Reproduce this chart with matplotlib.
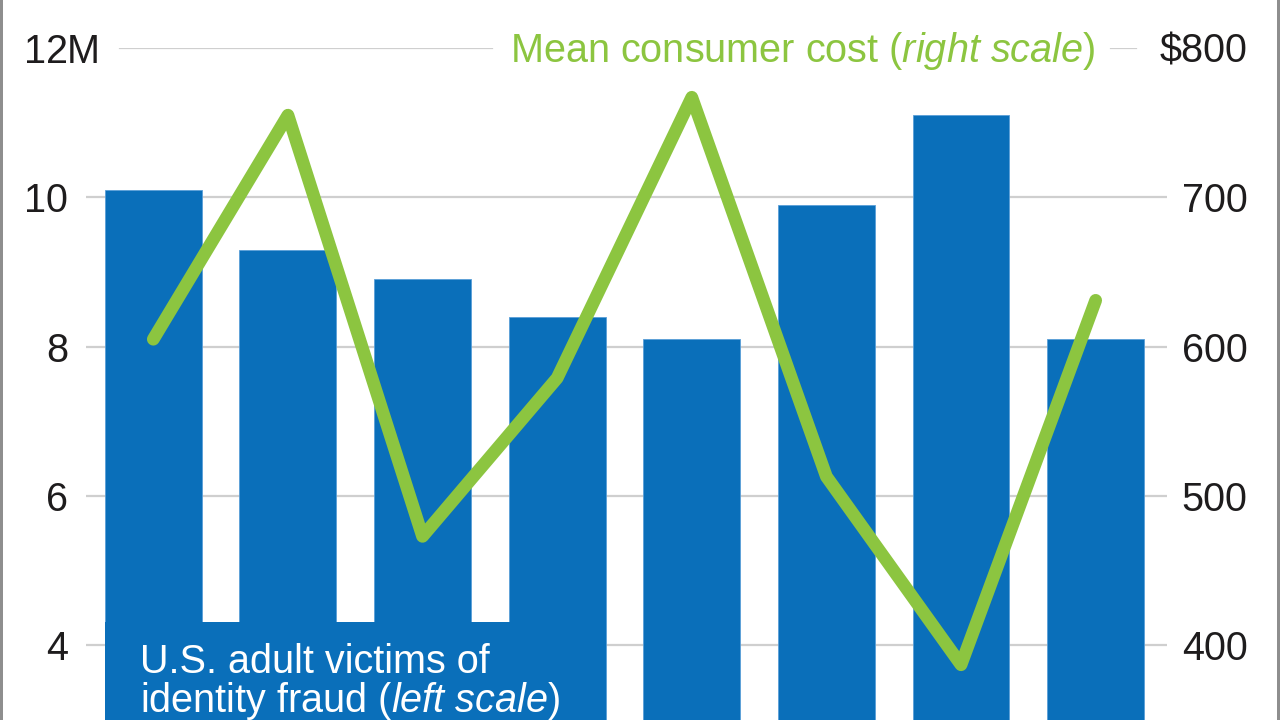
import matplotlib
matplotlib.use("Agg")
import matplotlib.pyplot as plt
from matplotlib.patches import Rectangle

plt.rcParams.update({"font.family": ["Liberation Sans", "DejaVu Sans"],
                     "mathtext.fontset": "custom",
                     "mathtext.rm": "Liberation Sans",
                     "mathtext.it": "Liberation Sans:italic",
                     "font.size": 28.5})

# data (2003-2010, Javelin-style identity fraud survey)
years = [2003, 2004, 2005, 2006, 2007, 2008, 2009, 2010]
victims_m = [10.1, 9.3, 8.9, 8.4, 8.1, 9.9, 11.1, 8.1]       # left scale, millions
mean_cost = [605, 755, 473, 579, 767, 513, 387, 631]          # right scale, dollars
left_ticks = [4, 6, 8, 10, 12]
left_labels = ["4", "6", "8", "10", "12"]
right_ticks = [400, 500, 600, 700, 800]
right_labels = ["400", "500", "600", "700", "$800"]

BLUE = "#0a6fba"
GREEN = "#8cc540"
GRID = "#cfcfcf"
INK = "#1e1c1d"
BAR_W = 0.72

fig = plt.figure(figsize=(12.8, 7.2), dpi=100)
ax = fig.add_axes([86 / 1280, 0, 1081 / 1280, 672 / 720])
ax2 = ax.twinx()

x = list(range(len(years)))
ax.bar(x, victims_m, width=BAR_W, color=BLUE, edgecolor="#5a9fd8", linewidth=0.6, zorder=2)

# label box that covers the lower part of the first four bars
x0 = x[0] - BAR_W / 2
box = Rectangle((x0, 3), (x[3] + BAR_W / 2) - x0, 1.31, facecolor=BLUE,
                edgecolor="none", zorder=3)
ax.add_patch(box)
ax.annotate("U.S. adult victims of", xy=(x0, 3), xycoords="data", xytext=(25, 34),
            textcoords="offset points", color="white", ha="left", va="baseline", zorder=4)
ax.annotate(r"identity fraud ($\mathit{left\ scale}$)", xy=(x0, 3), xycoords="data",
            xytext=(25, 5.5), textcoords="offset points", color="white", ha="left",
            va="baseline", zorder=4)

ax.set_xlim(-0.5, 7.53)
ax.set_ylim(3, 12)
ax2.set_ylim(350, 800)

# gridlines
for t in left_ticks[:-1]:
    ax.axhline(t, color=GRID, lw=1.6, zorder=1)
ax.axhline(12, xmin=0.0315, xmax=0.3756, color=GRID, lw=1.6, zorder=1)
ax.axhline(12, xmin=0.948, xmax=0.971, color=GRID, lw=1.6, zorder=1)

ax2.plot(x, mean_cost, color=GREEN, lw=9.2, solid_joinstyle="round",
         solid_capstyle="round", zorder=5)

ax.annotate(r"Mean consumer cost ($\mathit{right\ scale}$)", xy=(0.934, 12),
            xycoords=ax.get_yaxis_transform(), xytext=(0, -10), textcoords="offset points",
            ha="right", va="baseline", color=GREEN)

ax.set_yticks(left_ticks)
ax.set_yticklabels(left_labels)
ax.tick_params(axis="y", length=0, pad=13, colors=INK)
ax.annotate("M", xy=(0, 12), xycoords=ax.get_yaxis_transform(), xytext=(-13.5, 0),
            textcoords="offset points", ha="left", va="center_baseline", color=INK)

ax2.set_yticks(right_ticks)
ax2.set_yticklabels(right_labels)
ax2.tick_params(axis="y", length=0, pad=58, colors=INK)
for lab in ax2.get_yticklabels():
    lab.set_horizontalalignment("right")

ax.set_xticks([])
for a in (ax, ax2):
    for s in a.spines.values():
        s.set_visible(False)
ax.set_zorder(ax2.get_zorder() - 1)
ax2.patch.set_visible(False)
ax.patch.set_visible(False)

# thin gray frame at the left and right edges
fig.add_artist(Rectangle((0, 0), 3 / 1280, 1, transform=fig.transFigure,
                         facecolor="#8e8e8e", edgecolor="none"))
fig.add_artist(Rectangle((1 - 3 / 1280, 0), 3 / 1280, 1, transform=fig.transFigure,
                         facecolor="#8e8e8e", edgecolor="none"))

fig.savefig("out.png", dpi=100)
